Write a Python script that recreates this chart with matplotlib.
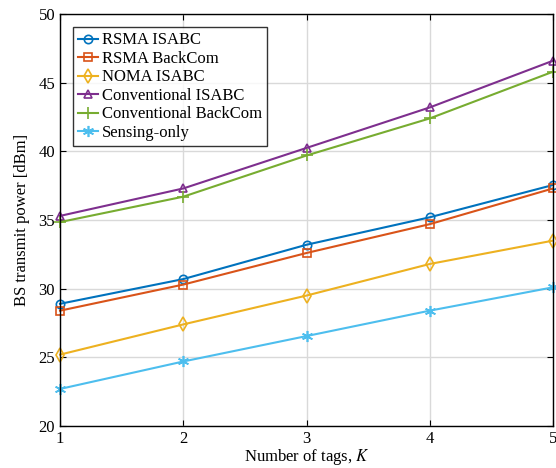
import matplotlib
matplotlib.use("Agg")
import matplotlib.pyplot as plt
import numpy as np

plt.rcParams['font.family'] = ['Liberation Serif', 'DejaVu Serif']
plt.rcParams['mathtext.fontset'] = 'stix'

K = [1, 2, 3, 4, 5]
rsma_isabc = [28.9, 30.7, 33.2, 35.2, 37.55]
rsma_backcom = [28.4, 30.3, 32.6, 34.7, 37.3]
noma_isabc = [25.2, 27.4, 29.5, 31.8, 33.5]
conv_isabc = [35.3, 37.3, 40.25, 43.2, 46.6]
conv_backcom = [34.85, 36.7, 39.7, 42.4, 45.8]
sensing_only = [22.7, 24.7, 26.55, 28.4, 30.1]

series = [
    ("RSMA ISABC", rsma_isabc, "#0072BD", "o", 6),
    ("RSMA BackCom", rsma_backcom, "#D95319", "s", 6),
    ("NOMA ISABC", noma_isabc, "#EDB120", "d", 7),
    ("Conventional ISABC", conv_isabc, "#7E2F8E", "^", 6),
    ("Conventional BackCom", conv_backcom, "#77AC30", "+", 8),
    ("Sensing-only", sensing_only, "#4DBEEE", (6, 2, 0), 8),
]

fig = plt.figure(figsize=(5.56, 4.68), dpi=100)
ax = fig.add_axes([0.108, 0.0897, 0.8866, 0.8803])

for name, vals, col, m, ms in series:
    ax.plot(K, vals, color=col, marker=m, markersize=ms, markerfacecolor='none',
            markeredgecolor=col, markeredgewidth=1.2, linewidth=1.5, label=name,
            clip_on=False)

ax.set_xlim(1, 5)
ax.set_ylim(20, 50)
ax.set_xticks(K)
ax.set_yticks(np.arange(20, 51, 5))
ax.grid(True, color='#d9d9d9', linewidth=1.0)
ax.set_axisbelow(True)
ax.tick_params(direction='in', labelsize=12, length=4, top=True, right=True)
for s in ax.spines.values():
    s.set_linewidth(1.0)

ax.set_xlabel(r"Number of tags, $K$", fontsize=12, labelpad=0)
ax.set_ylabel("BS transmit power [dBm]", fontsize=12, labelpad=6)

leg = ax.legend(loc='upper left', fontsize=12, frameon=True, fancybox=False,
                edgecolor='black', borderaxespad=0.8, handlelength=1.2,
                handletextpad=0.2, labelspacing=0.15, borderpad=0.3)
leg.get_frame().set_linewidth(1.0)

fig.savefig("out.png", dpi=100)
